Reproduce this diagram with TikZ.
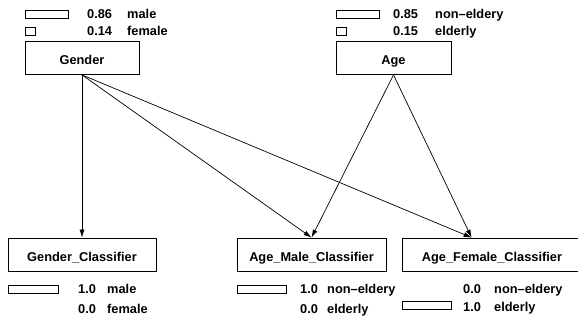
\documentclass[tikz,border=0pt]{standalone}
\usepackage{fontspec}
\setmainfont{Liberation Sans}
\usetikzlibrary{positioning,arrows.meta,calc}

\begin{document}
\begin{tikzpicture}[
  x=1pt, y=-1pt,
  >={Latex[length=8pt,width=5pt]},
  every node/.style={font=\bfseries\fontsize{12.8}{14}\selectfont},
  var/.style={draw, line width=0.8pt, minimum height=33pt, inner sep=0pt,
    text height=14pt, text depth=0pt},
  bar/.style={draw, line width=0.6pt, anchor=north west, minimum height=8pt, inner sep=0pt},
  val/.style={anchor=base west, inner sep=0pt},
  link/.style={->, line width=0.7pt}
]
\useasboundingbox (0,0) rectangle (578,320);

% variable nodes
\node[var, minimum width=114pt] (gender) at (82,58) {Gender};
\node[var, minimum width=115pt] (age)    at (393.5,58) {Age};
\node[var, minimum width=148pt] (gclf)   at (82,254.5) {Gender\_Classifier};
\node[var, minimum width=149pt] (amclf)  at (311.5,254.5) {Age\_Male\_Classifier};
\node[var, minimum width=180pt] (afclf)  at (492,254.5) {Age\_Female\_Classifier};

% beliefs
\node[bar, minimum width=43pt] (gbar1) at (25,10) {};
\node[bar, minimum width=10pt] (gbar2) at (25,27) {};
\node[val] (gval1) at (87,19) {0.86};
\node[val] (glab1) at (127,19) {male};
\node[val] (gval2) at (87,36) {0.14};
\node[val] (glab2) at (127,36) {female};

\node[bar, minimum width=43pt] (abar1) at (336,10) {};
\node[bar, minimum width=10pt] (abar2) at (336,27) {};
\node[val] (aval1) at (393,19) {0.85};
\node[val] (alab1) at (435,19) {non\textendash eldery};
\node[val] (aval2) at (393,36) {0.15};
\node[val] (alab2) at (435,36) {elderly};

\node[bar, minimum width=50pt] (gcbar1) at (8,285) {};
\node[val] (gcval1) at (78,294) {1.0};
\node[val] (gclab1) at (107,294) {male};
\node[val] (gcval2) at (78,313) {0.0};
\node[val] (gclab2) at (107,313) {female};

\node[bar, minimum width=49pt] (amcbar1) at (237,285) {};
\node[val] (amcval1) at (300,294) {1.0};
\node[val] (amclab1) at (327,294) {non\textendash eldery};
\node[val] (amcval2) at (300,313) {0.0};
\node[val] (amclab2) at (327,313) {elderly};

\node[bar, minimum width=49pt] (afcbar2) at (402,301) {};
\node[val] (afcval1) at (463,294) {0.0};
\node[val] (afclab1) at (494,294) {non\textendash eldery};
\node[val] (afcval2) at (463,311) {1.0};
\node[val] (afclab2) at (494,311) {elderly};

% links
\coordinate (afin) at ($(afclf.north west)+(70,0)$);
\draw[link] (gender.south) -- (gclf.north);
\draw[link] (gender.south) -- (amclf.north);
\draw[link] (gender.south) -- (afin);
\draw[link] (age.south) -- (amclf.north);
\draw[link] (age.south) -- (afin);
\end{tikzpicture}
\end{document}
